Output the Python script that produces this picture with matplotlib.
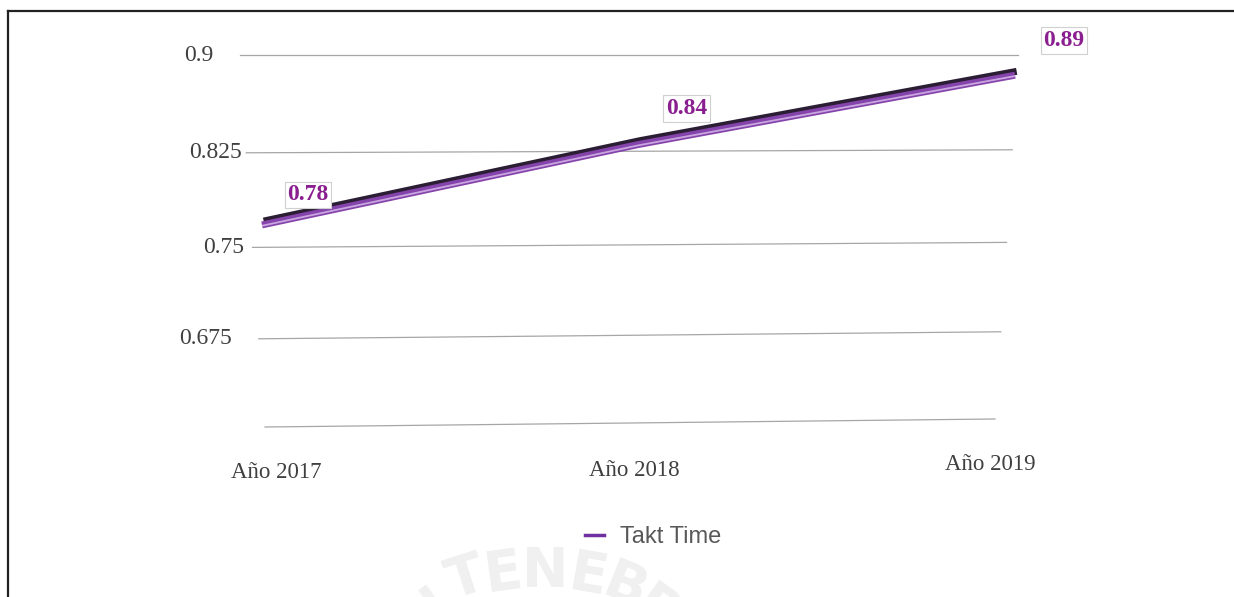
import matplotlib
matplotlib.use("Agg")
import numpy as np
import matplotlib.pyplot as plt
import matplotlib.patheffects as pe
from matplotlib.lines import Line2D
from matplotlib.transforms import Affine2D, blended_transform_factory, offset_copy

# Data
categories = ["Año 2017", "Año 2018", "Año 2019"]
takt_time = [0.78, 0.84, 0.89]
y_ticks = [0.675, 0.75, 0.825, 0.9]
y_tick_labels = ["0.675", "0.75", "0.825", "0.9"]
series_name = "Takt Time"

W, H, DPI = 1234, 597, 100
fig = plt.figure(figsize=(W / DPI, H / DPI), dpi=DPI)
fig.patch.set_facecolor("white")

# Axes area in pixels
ax_l, ax_r, ax_t, ax_b = 240, 1018, 55, 427
ax = fig.add_axes([ax_l / W, 1 - ax_b / H, (ax_r - ax_l) / W, (ax_b - ax_t) / H])
ax.set_facecolor("none")
for s in ax.spines.values():
    s.set_visible(False)

# Foreshortened value axis: steps shrink slightly toward the floor
STEP, A, B = 0.075, 99.5, 1.6


def fwd(v):
    t = (0.9 - np.asarray(v, dtype=float)) / STEP
    return -(A * t - B * t ** 2)


def inv(s):
    s = -np.asarray(s, dtype=float)
    disc = np.clip(A ** 2 - 4 * B * s, 0, None)
    t = (A - np.sqrt(disc)) / (2 * B)
    return 0.9 - t * STEP


ax.set_yscale("function", functions=(fwd, inv))
ax.set_ylim(0.6, 0.9)
ax.set_xticks([])
ax.set_yticks([])
ax.minorticks_off()

x = list(range(len(categories)))
px0, px2 = 262, 1015
unit = (px2 - px0) / 2.0
ax.set_xlim((ax_l - px0) / unit, 2 + (ax_r - px2) / unit)


def skew(x_left, x_right, rise_left, rise_right):
    """Display-space shear giving a vertical shift that varies along x."""
    k = (rise_right - rise_left) / (x_right - x_left)
    c = rise_left - k * x_left
    return Affine2D(np.array([[1, 0, 0], [k, 1, c], [0, 0, 1]], dtype=float))


# Receding gridlines
xfig_ydata = blended_transform_factory(fig.transFigure, ax.transData)
grid_vals = [0.6] + y_ticks
grid_rise = {0.6: 8, 0.675: 7, 0.75: 5, 0.825: 3, 0.9: 0}
for v in grid_vals:
    depth = (0.9 - v) / 0.3
    gl = ax_l + depth * 25
    gr = ax_r - depth * 23
    tr = xfig_ydata + skew(gl, gr, 0, grid_rise[v])
    ax.plot([gl / W, gr / W], [v, v], color="#a6a6a6", lw=0.9, zorder=1,
            transform=tr, clip_on=False)

# Y tick labels
label_right = {0.9: 213, 0.825: 242, 0.75: 244, 0.675: 232}
for v, lab in zip(y_ticks, y_tick_labels):
    ax.text(label_right[v] / W, v, lab, transform=xfig_ydata, ha="right",
            va="center", fontsize=17, family="Liberation Serif",
            color="#404040", clip_on=False)

# X tick labels (shifted for the receding floor)
xdata_yfig = blended_transform_factory(ax.transData, fig.transFigure)
label_dx = [14, -4, -25]
label_y = [472, 470, 465]
for xi, lab, dx, yy in zip(x, categories, label_dx, label_y):
    ax.text(xi + dx / unit, 1 - yy / H, lab, transform=xdata_yfig,
            ha="center", va="center", fontsize=16.5,
            family="Liberation Serif", color="#404040", clip_on=False)

# Ribbon-like line sitting on the front plane
front = ax.transData + skew(px0, px2, -15, -7)
line, = ax.plot(x, takt_time, color="#8544ab", lw=5, zorder=3,
                solid_capstyle="butt", transform=front, clip_on=False)
line.set_path_effects([
    pe.Stroke(offset=(1.2, 2.8), linewidth=5, foreground="#2b1d33"),
    pe.Stroke(linewidth=5, foreground="#8544ab"),
    pe.Stroke(offset=(0, -0.6), linewidth=1.3, foreground="#c9a6e0"),
])

# Data labels
label_off = [(46, 15), (48, 25), (49, 28)]
for xi, v, (ox, oy) in zip(x, takt_time, label_off):
    tr = offset_copy(ax.transData, fig=fig, x=ox, y=oy, units="dots")
    ax.text(xi, v, f"{v:.2f}", transform=tr, ha="center", va="center",
            fontsize=17, fontweight="bold", family="Liberation Serif",
            color="#8a1f8f", zorder=5, clip_on=False,
            bbox=dict(boxstyle="square,pad=0.12", fc="white",
                      ec="#d0d0d0", lw=0.8))

# Legend
handle = Line2D([], [], color="#7030a0", lw=2.5)
fig.legend([handle], [series_name], loc="center",
           bbox_to_anchor=(653 / W, 1 - 537 / H), frameon=False,
           prop=dict(family="Liberation Sans", size=17),
           handlelength=0.8, handletextpad=0.7, labelcolor="#595959")

# Faint seal lettering along an arc at the bottom
seal = [("N", 410, 590, 35), ("T", 458, 553, 18), ("E", 500, 547, 8),
        ("N", 545, 545, 0), ("E", 593, 550, -10), ("B", 635, 563, -22),
        ("R", 672, 590, -35)]
for ch, sx, sy, rot in seal:
    fig.text(sx / W, 1 - sy / H, ch, ha="center", va="top", rotation=rot,
             rotation_mode="anchor", fontsize=40, fontweight="bold",
             family="DejaVu Sans", color="#f0f0f0", zorder=0)

# Outer frame (top and left edges)
fig.add_artist(Line2D([8 / W, 1], [1 - 10.5 / H, 1 - 10.5 / H],
                      transform=fig.transFigure, color="#222222", lw=1.6))
fig.add_artist(Line2D([8 / W, 8 / W], [0, 1 - 10.5 / H],
                      transform=fig.transFigure, color="#222222", lw=1.6))

fig.savefig("out.png", dpi=DPI, facecolor="white")
